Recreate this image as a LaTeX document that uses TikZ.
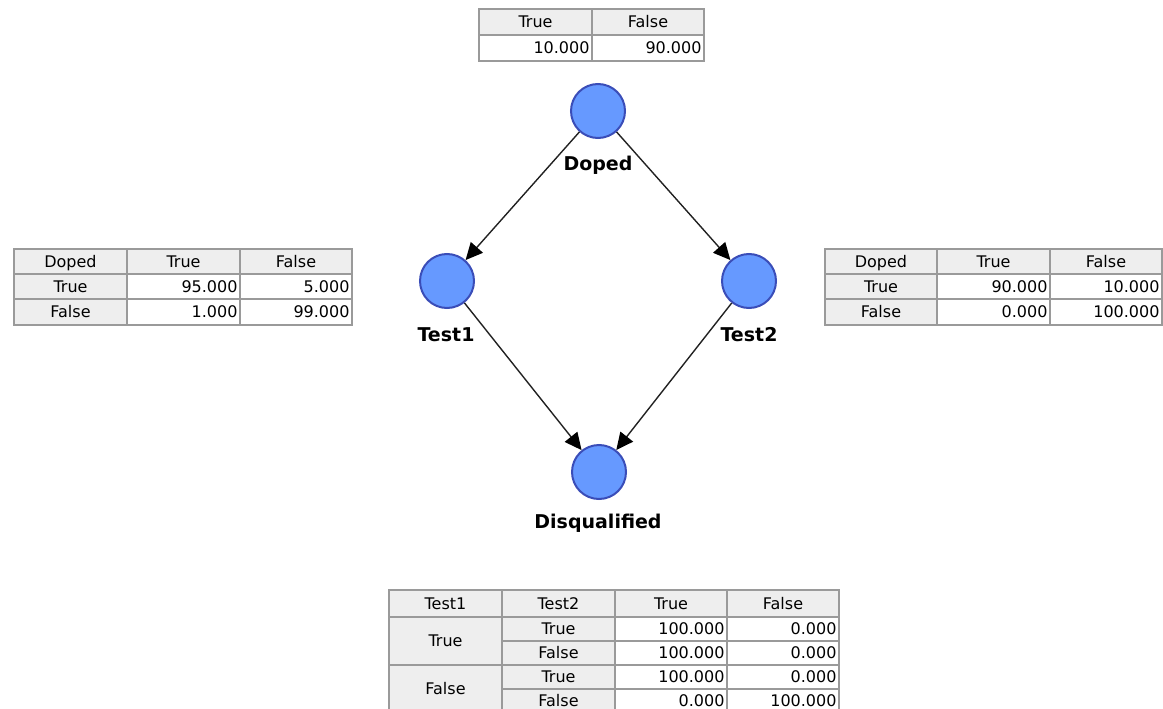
\documentclass[tikz,border=0pt]{standalone}
\usepackage{fontspec}
\usetikzlibrary{arrows.meta}
\newfontfamily\tabfam{DejaVu Sans}
\newfontfamily\lblfam{DejaVu Sans}
\definecolor{nodefill}{HTML}{6699FF}
\definecolor{nodeline}{HTML}{3A4DB8}
\definecolor{hfill}{HTML}{EEEEEE}
\definecolor{cellline}{HTML}{9A9A9A}
\definecolor{edgecol}{HTML}{222222}
\tikzset{
  cell/.style={draw=cellline, line width=1.2pt, inner sep=0pt, text height=12.5pt, text depth=1.5pt, font=\tabfam\fontsize{16}{18}\selectfont},
  hcell/.style={cell, fill=hfill},
  vcell/.style={cell, fill=white, align=right},
  bnode/.style={circle, fill=nodefill, draw=nodeline, line width=2pt, minimum size=54pt, inner sep=0pt},
  blabel/.style={font=\lblfam\bfseries\fontsize{19}{21}\selectfont, inner sep=0pt},
  edge/.style={draw=edgecol, line width=1.4pt, -{Triangle[length=17pt,width=16pt,color=black]}}
}
\newcommand\hcellat[6]{\node[hcell, minimum width={(#4-#2)*1pt}, minimum height={(#5-#3)*1pt}] (#1) at ({(#2+#4)/2},{(#3+#5)/2}) {#6};}
\newcommand\vcellat[6]{\pgfmathsetmacro\tw{#4-#2-5}\node[vcell, minimum width={(#4-#2)*1pt}, minimum height={(#5-#3)*1pt}, text width=\tw pt] (#1) at ({(#2+#4)/2},{(#3+#5)/2}) {#6};}
\begin{document}
\begin{tikzpicture}[x=1pt,y=-1pt]
\useasboundingbox (0,0) rectangle (1163,709);
\clip (0,0) rectangle (1163,709);
% top table
\hcellat{ta}{479}{9}{592}{35}{True}
\hcellat{tb}{592}{9}{704}{35}{False}
\vcellat{tc}{479}{35}{592}{61}{10.000}
\vcellat{td}{592}{35}{704}{61}{90.000}
% left table
\hcellat{la1}{14}{249}{127}{274}{Doped}
\hcellat{la2}{127}{249}{240}{274}{True}
\hcellat{la3}{240}{249}{352}{274}{False}
\hcellat{lb1}{14}{274}{127}{299}{True}
\vcellat{lb2}{127}{274}{240}{299}{95.000}
\vcellat{lb3}{240}{274}{352}{299}{5.000}
\hcellat{lc1}{14}{299}{127}{325}{False}
\vcellat{lc2}{127}{299}{240}{325}{1.000}
\vcellat{lc3}{240}{299}{352}{325}{99.000}
% right table
\hcellat{ra1}{825}{249}{937}{274}{Doped}
\hcellat{ra2}{937}{249}{1050}{274}{True}
\hcellat{ra3}{1050}{249}{1162}{274}{False}
\hcellat{rb1}{825}{274}{937}{299}{True}
\vcellat{rb2}{937}{274}{1050}{299}{90.000}
\vcellat{rb3}{1050}{274}{1162}{299}{10.000}
\hcellat{rc1}{825}{299}{937}{325}{False}
\vcellat{rc2}{937}{299}{1050}{325}{0.000}
\vcellat{rc3}{1050}{299}{1162}{325}{100.000}
% bottom table
\hcellat{ba1}{389}{590}{502}{617}{Test1}
\hcellat{ba2}{502}{590}{615}{617}{Test2}
\hcellat{ba3}{615}{590}{727}{617}{True}
\hcellat{ba4}{727}{590}{839}{617}{False}
\hcellat{bt}{389}{617}{502}{665}{True}
\hcellat{bf}{389}{665}{502}{713}{False}
\hcellat{bb2}{502}{617}{615}{641}{True}
\vcellat{bb3}{615}{617}{727}{641}{100.000}
\vcellat{bb4}{727}{617}{839}{641}{0.000}
\hcellat{bc2}{502}{641}{615}{665}{False}
\vcellat{bc3}{615}{641}{727}{665}{100.000}
\vcellat{bc4}{727}{641}{839}{665}{0.000}
\hcellat{bd2}{502}{665}{615}{689}{True}
\vcellat{bd3}{615}{665}{727}{689}{100.000}
\vcellat{bd4}{727}{665}{839}{689}{0.000}
\hcellat{be2}{502}{689}{615}{713}{False}
\vcellat{be3}{615}{689}{727}{713}{0.000}
\vcellat{be4}{727}{689}{839}{713}{100.000}
% graph
\node[bnode] (doped) at (598,111) {};
\node[bnode] (test1) at (447,281) {};
\node[bnode] (test2) at (749,281) {};
\node[bnode] (disq) at (599,472) {};
\node[blabel] (ldoped) at (598,165) {Doped};
\node[blabel] (ltest1) at (446,335) {Test1};
\node[blabel] (ltest2) at (749,335) {Test2};
\node[blabel] (ldisq) at (598,523) {Disqualified};
\draw[edge] (doped) -- (test1);
\draw[edge] (doped) -- (test2);
\draw[edge] (test1) -- (disq);
\draw[edge] (test2) -- (disq);
\end{tikzpicture}
\end{document}
